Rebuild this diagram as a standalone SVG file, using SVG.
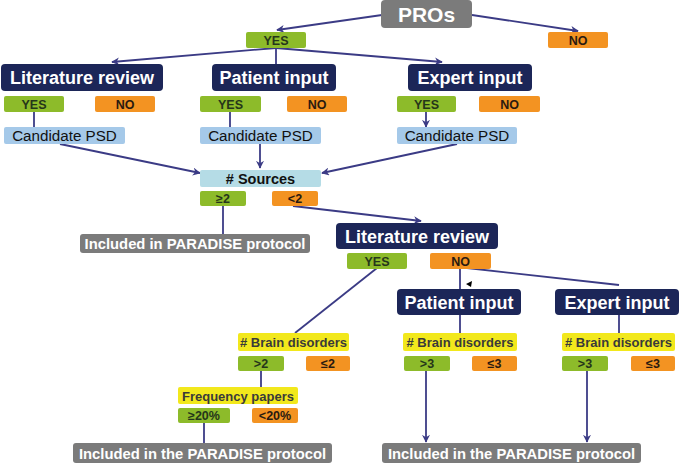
<svg xmlns="http://www.w3.org/2000/svg" width="680" height="464" viewBox="0 0 680 464">
<defs>
<marker id="ah" viewBox="0 0 10 10" refX="9" refY="5" markerWidth="8" markerHeight="8" markerUnits="userSpaceOnUse" orient="auto">
<path d="M0,0 L10,5 L0,10 L3,5 z" fill="#3b3b85"/>
</marker>
<style>
text{font-family:"Liberation Sans",Arial,sans-serif;font-weight:bold;text-anchor:middle}
.navy rect{fill:#1c2658}
.navy text{fill:#fff;font-size:18px}
.gray rect{fill:#7b7b7b}
.gray text{fill:#fff;font-size:14.8px}
.yes rect{fill:#8dbb2a}
.yes text{fill:#25361a;font-size:12.5px}
.no rect{fill:#f39322}
.no text{fill:#2a1a10;font-size:12.5px}
.psd rect{fill:#a5c9e9}
.psd text{fill:#111;font-size:15.2px;font-weight:normal}
.src rect{fill:#b5dce6}
.src text{fill:#111;font-size:14.5px}
.yel rect{fill:#f2e81c}
.yel text{fill:#3a3a3a;font-size:13px}
.conn line,.conn path{stroke:#3b3b85;stroke-width:1.8;fill:none}
.conn .a{marker-end:url(#ah)}
</style>
</defs>
<rect width="680" height="464" fill="#fff"/>

<g class="conn" id="connectors">
<line class="a" x1="382" y1="15" x2="277" y2="30"/>
<line class="a" x1="472" y1="15" x2="578" y2="31"/>
<line class="a" x1="276" y1="48" x2="112" y2="62"/>
<line x1="276" y1="48" x2="276" y2="64"/>
<line class="a" x1="276" y1="48" x2="442" y2="62"/>
<line x1="34" y1="112" x2="34" y2="127"/>
<line x1="230" y1="112" x2="230" y2="127"/>
<line class="a" x1="426" y1="112" x2="426" y2="127"/>
<line class="a" x1="60" y1="144" x2="200" y2="173"/>
<line class="a" x1="260" y1="144" x2="260" y2="168"/>
<line class="a" x1="457" y1="144" x2="322" y2="173"/>
<line x1="223" y1="206" x2="223" y2="234"/>
<line class="a" x1="293" y1="206" x2="421" y2="221"/>
<line x1="460" y1="269" x2="460" y2="289"/>
<line x1="467" y1="268" x2="619" y2="285"/>
<line x1="377" y1="268" x2="295" y2="333"/>
<line x1="460" y1="315" x2="460" y2="333"/>
<line x1="619" y1="315" x2="619" y2="333"/>
<line x1="261" y1="371" x2="261" y2="387"/>
<line x1="204" y1="423" x2="204" y2="443"/>
<line class="a" x1="426" y1="371" x2="426" y2="442"/>
<line class="a" x1="587" y1="371" x2="587" y2="442"/>
<polygon points="466,284 472,281 471,287" fill="#000"/>
</g>

<g id="pros" class="gray"><rect x="381" y="0" width="91" height="28" rx="4"/><text x="426.5" y="22" style="font-size:21px">PROs</text></g>
<g id="yes-top" class="yes"><rect x="246" y="32" width="60" height="16" rx="2"/><text x="276" y="44.5">YES</text></g>
<g id="no-top" class="no"><rect x="548" y="32" width="60" height="16" rx="2"/><text x="578" y="44.5">NO</text></g>

<g id="lit1" class="navy"><rect x="1" y="64" width="162" height="27" rx="4"/><text x="82" y="84">Literature review</text></g>
<g id="pat1" class="navy"><rect x="212" y="64" width="124" height="27" rx="4"/><text x="274" y="84">Patient input</text></g>
<g id="exp1" class="navy"><rect x="408" y="64" width="124" height="27" rx="4"/><text x="470" y="84">Expert input</text></g>

<g id="lit1-yes" class="yes"><rect x="4" y="96" width="60" height="16" rx="2"/><text x="34" y="108.5">YES</text></g>
<g id="lit1-no" class="no"><rect x="95" y="96" width="60" height="16" rx="2"/><text x="125" y="108.5">NO</text></g>
<g id="pat1-yes" class="yes"><rect x="200" y="96" width="61" height="16" rx="2"/><text x="230.5" y="108.5">YES</text></g>
<g id="pat1-no" class="no"><rect x="287" y="96" width="60" height="16" rx="2"/><text x="317" y="108.5">NO</text></g>
<g id="exp1-yes" class="yes"><rect x="397" y="96" width="59" height="16" rx="2"/><text x="426.5" y="108.5">YES</text></g>
<g id="exp1-no" class="no"><rect x="479" y="96" width="61" height="16" rx="2"/><text x="509.5" y="108.5">NO</text></g>

<g id="psd1" class="psd"><rect x="4" y="127" width="121" height="17" rx="2"/><text x="64.5" y="141">Candidate PSD</text></g>
<g id="psd2" class="psd"><rect x="200" y="127" width="121" height="17" rx="2"/><text x="260.5" y="141">Candidate PSD</text></g>
<g id="psd3" class="psd"><rect x="397" y="127" width="120" height="17" rx="2"/><text x="457" y="141">Candidate PSD</text></g>

<g id="sources" class="src"><rect x="200" y="170" width="121" height="17" rx="2"/><text x="260.5" y="184"># Sources</text></g>
<g id="ge2" class="yes"><rect x="200" y="191" width="46" height="15" rx="2"/><text x="223" y="203">≥2</text></g>
<g id="lt2" class="no"><rect x="272" y="191" width="46" height="15" rx="2"/><text x="295" y="203">&lt;2</text></g>

<g id="incl1" class="gray"><rect x="80" y="234" width="230" height="19" rx="3"/><text x="195" y="249">Included in PARADISE protocol</text></g>

<g id="lit2" class="navy"><rect x="336" y="223" width="162" height="26" rx="4"/><text x="417" y="242.5">Literature review</text></g>
<g id="lit2-yes" class="yes"><rect x="347" y="253" width="60" height="16" rx="2"/><text x="377" y="265.5">YES</text></g>
<g id="lit2-no" class="no"><rect x="430" y="253" width="61" height="16" rx="2"/><text x="460.5" y="265.5">NO</text></g>

<g id="pat2" class="navy"><rect x="397" y="289" width="124" height="26" rx="4"/><text x="459" y="308.5">Patient input</text></g>
<g id="exp2" class="navy"><rect x="555" y="289" width="124" height="26" rx="4"/><text x="617" y="308.5">Expert input</text></g>

<g id="brain1" class="yel"><rect x="238" y="333" width="111" height="18" rx="2"/><text x="293.5" y="346.5"># Brain disorders</text></g>
<g id="brain1-gt" class="yes"><rect x="238" y="356" width="46" height="15" rx="2"/><text x="261" y="368">&gt;2</text></g>
<g id="brain1-le" class="no"><rect x="306" y="356" width="44" height="15" rx="2"/><text x="328" y="368">≤2</text></g>

<g id="brain2" class="yel"><rect x="403" y="333" width="114" height="18" rx="2"/><text x="460" y="346.5"># Brain disorders</text></g>
<g id="brain2-gt" class="yes"><rect x="404" y="356" width="46" height="15" rx="2"/><text x="427" y="368">&gt;3</text></g>
<g id="brain2-le" class="no"><rect x="472" y="356" width="45" height="15" rx="2"/><text x="494.5" y="368">≤3</text></g>

<g id="brain3" class="yel"><rect x="562" y="333" width="113" height="18" rx="2"/><text x="618.5" y="346.5"># Brain disorders</text></g>
<g id="brain3-gt" class="yes"><rect x="562" y="356" width="46" height="15" rx="2"/><text x="585" y="368">&gt;3</text></g>
<g id="brain3-le" class="no"><rect x="631" y="356" width="44" height="15" rx="2"/><text x="653" y="368">≤3</text></g>

<g id="freq" class="yel"><rect x="178" y="387" width="120" height="17" rx="2"/><text x="238" y="400.5">Frequency papers</text></g>
<g id="ge20" class="yes"><rect x="178" y="408" width="52" height="15" rx="2"/><text x="204" y="420">≥20%</text></g>
<g id="lt20" class="no"><rect x="252" y="408" width="46" height="15" rx="2"/><text x="275" y="420">&lt;20%</text></g>

<g id="incl2" class="gray"><rect x="73" y="443" width="259" height="20" rx="3"/><text x="202.5" y="458.5">Included in the PARADISE protocol</text></g>
<g id="incl3" class="gray"><rect x="382" y="443" width="259" height="20" rx="3"/><text x="511.5" y="458.5">Included in the PARADISE protocol</text></g>
</svg>
